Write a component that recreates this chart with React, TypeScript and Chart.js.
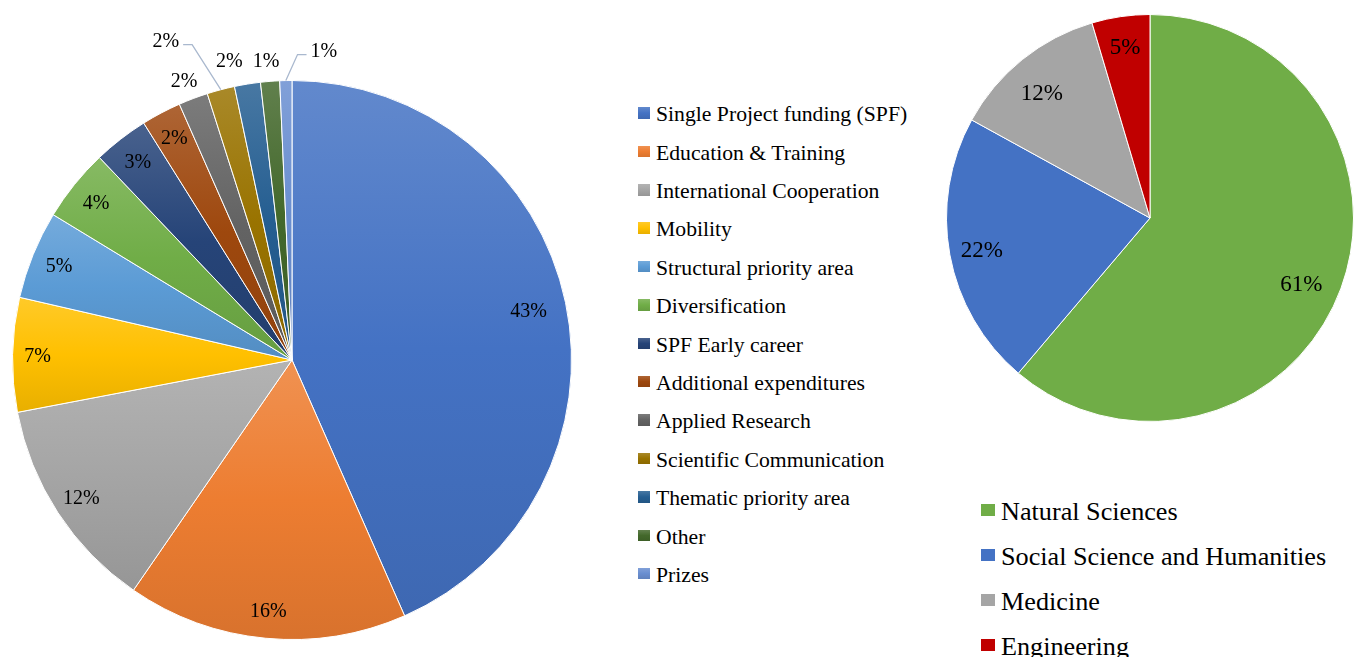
import React, { useEffect, useRef } from 'react';
import { Chart, registerables } from 'chart.js';

Chart.register(...registerables);

// ---------- data ----------
const fundingLabels = [
  'Single Project funding (SPF)',
  'Education & Training',
  'International Cooperation',
  'Mobility',
  'Structural priority area',
  'Diversification',
  'SPF Early career',
  'Additional expenditures',
  'Applied Research',
  'Scientific Communication',
  'Thematic priority area',
  'Other',
  'Prizes',
];
const fundingShares = [43.4, 16.2, 12.4, 6.6, 5.1, 4.2, 3.2, 2.3, 1.7, 1.6, 1.5, 1.1, 0.7];
const fundingColors = [
  '#4472C4', '#ED7D31', '#A5A5A5', '#FFC000', '#5B9BD5', '#70AD47', '#264478',
  '#9E480E', '#636363', '#997300', '#255E91', '#43682B', '#698ED0',
];

const fieldLabels = ['Natural Sciences', 'Social Science and Humanities', 'Medicine', 'Engineering'];
const fieldShares = [61.2, 21.8, 12.4, 4.6];
const fieldColors = ['#70AD47', '#4472C4', '#A5A5A5', '#C00000'];

// ---------- label placement (style, not data) ----------
type Place = { r?: number; shift?: number; dx?: number; dy?: number; leader?: boolean };
const fundingPlacement: Place[] = [
  { r: 0.865, shift: 0 }, { r: 0.9, shift: 0 }, { r: 0.9, shift: 0 }, { r: 0.91, shift: 0 },
  { r: 0.9, shift: 0 }, { r: 0.9, shift: 0 }, { r: 0.9, shift: 0 }, { r: 0.9, shift: 0 },
  { dx: -9, dy: -18, leader: false },
  { dx: -55, dy: -49, leader: true },
  { dx: -18, dy: -24, leader: false },
  { dx: -4, dy: -21, leader: false },
  { dx: 38, dy: -30, leader: true },
];
const fieldPlacement: Place[] = [
  { r: 0.81, shift: 3.3 },
  { r: 0.84, shift: 0 },
  { r: 0.815, shift: -1.8 },
  { r: 0.85, shift: 0 },
];

const SERIF = '"Liberation Serif", "Times New Roman", Times, serif';

function hexToRgb(h: string) {
  const n = parseInt(h.slice(1), 16);
  return [(n >> 16) & 255, (n >> 8) & 255, n & 255];
}
function mix(hex: string, target: string, t: number) {
  const a = hexToRgb(hex);
  const b = hexToRgb(target);
  const c = a.map((v, i) => Math.round(v + (b[i] - v) * t));
  return `rgb(${c[0]},${c[1]},${c[2]})`;
}

function sliceGradient(sctx: any, colors: string[], shares: number[]) {
  const chart = sctx.chart;
  const area = chart.chartArea;
  const i = sctx.dataIndex;
  const base = colors[i];
  if (!area || sctx.type !== 'data') return base;
  const cx = (area.left + area.right) / 2;
  const cy = (area.top + area.bottom) / 2;
  const r = Math.min(area.width, area.height) / 2;
  const total = shares.reduce((a, b) => a + b, 0);
  let a0 = -Math.PI / 2;
  for (let k = 0; k < i; k++) a0 += (shares[k] / total) * Math.PI * 2;
  const a1 = a0 + (shares[i] / total) * Math.PI * 2;
  let ymin = Math.min(cy, cy + r * Math.sin(a0), cy + r * Math.sin(a1));
  let ymax = Math.max(cy, cy + r * Math.sin(a0), cy + r * Math.sin(a1));
  if (a0 <= -Math.PI / 2 + 1e-6 || a1 >= (3 * Math.PI) / 2 - 1e-6) ymin = cy - r;
  if (a0 <= Math.PI / 2 && a1 >= Math.PI / 2) ymax = cy + r;
  const g = chart.ctx.createLinearGradient(0, ymin, 0, ymax);
  g.addColorStop(0, mix(base, '#ffffff', 0.16));
  g.addColorStop(0.5, base);
  g.addColorStop(1, mix(base, '#000000', 0.09));
  return g;
}

function makeLabelPlugin(size: number, placement: Place[]) {
  return {
    id: 'sliceLabels',
    afterDatasetsDraw(chart: any) {
      const { ctx } = chart;
      const meta = chart.getDatasetMeta(0);
      const data = chart.data.datasets[0].data as number[];
      const total = data.reduce((a, b) => a + b, 0);
      ctx.save();
      ctx.font = `${size}px ${SERIF}`;
      ctx.fillStyle = '#000';
      ctx.textAlign = 'center';
      ctx.textBaseline = 'alphabetic';
      meta.data.forEach((arc: any, i: number) => {
        const p = arc.getProps(['x', 'y', 'startAngle', 'endAngle', 'outerRadius'], true);
        const mid = (p.startAngle + p.endAngle) / 2;
        const text = Math.round((data[i] / total) * 100) + '%';
        const pl = placement[i] || { r: 0.85, shift: 0 };
        let lx: number;
        let ly: number;
        if (typeof pl.r === 'number') {
          const ang = mid + ((pl.shift || 0) * Math.PI) / 180;
          lx = p.x + Math.cos(ang) * p.outerRadius * pl.r;
          ly = p.y + Math.sin(ang) * p.outerRadius * pl.r;
        } else {
          const ex = p.x + Math.cos(mid) * p.outerRadius;
          const ey = p.y + Math.sin(mid) * p.outerRadius;
          lx = ex + (pl.dx || 0);
          ly = ey + (pl.dy || 0);
          if (pl.leader) {
            const tw = ctx.measureText(text).width;
            const side = Math.sign(pl.dx || 1);
            const ax = lx - side * (tw / 2 + 4);
            const ay = ly + 4;
            const bx = ax - side * 9;
            ctx.save();
            ctx.strokeStyle = '#A9B8CE';
            ctx.lineWidth = 1.3;
            ctx.beginPath();
            ctx.moveTo(ex, ey);
            ctx.lineTo(bx, ay);
            ctx.lineTo(ax, ay);
            ctx.stroke();
            ctx.restore();
          }
        }
        ctx.fillText(text, lx, ly + size * 0.331);
      });
      ctx.restore();
    },
  };
}

function PieCanvas(props: {
  labels: string[];
  shares: number[];
  colors: string[];
  gradient: boolean;
  placement: Place[];
  labelSize: number;
  left: number;
  top: number;
  width: number;
  height: number;
  padding: { left: number; top: number; right: number; bottom: number };
}) {
  const ref = useRef<HTMLCanvasElement | null>(null);
  useEffect(() => {
    if (!ref.current) return;
    const { labels, shares, colors, gradient, placement, labelSize, padding } = props;
    const chart = new Chart(ref.current, {
      type: 'pie',
      data: {
        labels,
        datasets: [
          {
            data: shares,
            backgroundColor: gradient
              ? (c: any) => sliceGradient(c, colors, shares)
              : colors,
            borderColor: '#ffffff',
            borderWidth: 1,
          },
        ],
      },
      options: {
        responsive: false,
        animation: false,
        layout: { padding },
        plugins: {
          legend: { display: false },
          tooltip: { enabled: false },
        },
      },
      plugins: [makeLabelPlugin(labelSize, placement) as any],
    });
    return () => chart.destroy();
  }, []);
  return (
    <canvas
      ref={ref}
      width={props.width}
      height={props.height}
      style={{
        position: 'absolute',
        left: props.left,
        top: props.top,
        width: props.width,
        height: props.height,
      }}
    />
  );
}

function Legend(props: {
  labels: string[];
  colors: string[];
  gradient: boolean;
  left: number;
  firstCenter: number;
  spacing: number;
  fontSize: number;
  markerW: number;
  markerH: number;
  markerShift: number;
  textGap: number;
}) {
  const { labels, colors, gradient, left, firstCenter, spacing, fontSize, markerW, markerH, markerShift, textGap } = props;
  return (
    <div
      style={{
        position: 'absolute',
        left,
        top: firstCenter - spacing / 2,
        fontFamily: SERIF,
        fontSize,
        color: '#000',
      }}
    >
      {labels.map((l, i) => (
        <div
          key={l}
          style={{
            position: 'relative',
            height: spacing,
            lineHeight: `${spacing}px`,
            paddingLeft: markerW + textGap,
            whiteSpace: 'nowrap',
          }}
        >
          <span
            style={{
              position: 'absolute',
              left: 0,
              top: spacing / 2 + markerShift - markerH / 2,
              width: markerW,
              height: markerH,
              background: gradient
                ? `linear-gradient(${mix(colors[i], '#ffffff', 0.16)}, ${colors[i]}, ${mix(colors[i], '#000000', 0.09)})`
                : colors[i],
            }}
          />
          {l}
        </div>
      ))}
    </div>
  );
}

export default function App() {
  return (
    <div
      style={{
        position: 'fixed',
        left: 0,
        top: 0,
        width: 1354,
        height: 657,
        overflow: 'hidden',
        background: '#ffffff',
      }}
    >
      <PieCanvas
        labels={fundingLabels}
        shares={fundingShares}
        colors={fundingColors}
        gradient={true}
        placement={fundingPlacement}
        labelSize={20}
        left={0}
        top={0}
        width={620}
        height={657}
        padding={{ left: 12, top: 80, right: 48, bottom: 17 }}
      />
      <Legend
        labels={fundingLabels}
        colors={fundingColors}
        gradient={true}
        left={638}
        firstCenter={114.5}
        spacing={38.4}
        fontSize={21.7}
        markerW={12}
        markerH={11.5}
        markerShift={-1.5}
        textGap={6}
      />
      <PieCanvas
        labels={fieldLabels}
        shares={fieldShares}
        colors={fieldColors}
        gradient={false}
        placement={fieldPlacement}
        labelSize={23}
        left={940}
        top={0}
        width={414}
        height={440}
        padding={{ left: 6, top: 14, right: 0, bottom: 18 }}
      />
      <Legend
        labels={fieldLabels}
        colors={fieldColors}
        gradient={false}
        left={981}
        firstCenter={511}
        spacing={45}
        fontSize={26.2}
        markerW={14}
        markerH={12}
        markerShift={-1}
        textGap={6}
      />
    </div>
  );
}
